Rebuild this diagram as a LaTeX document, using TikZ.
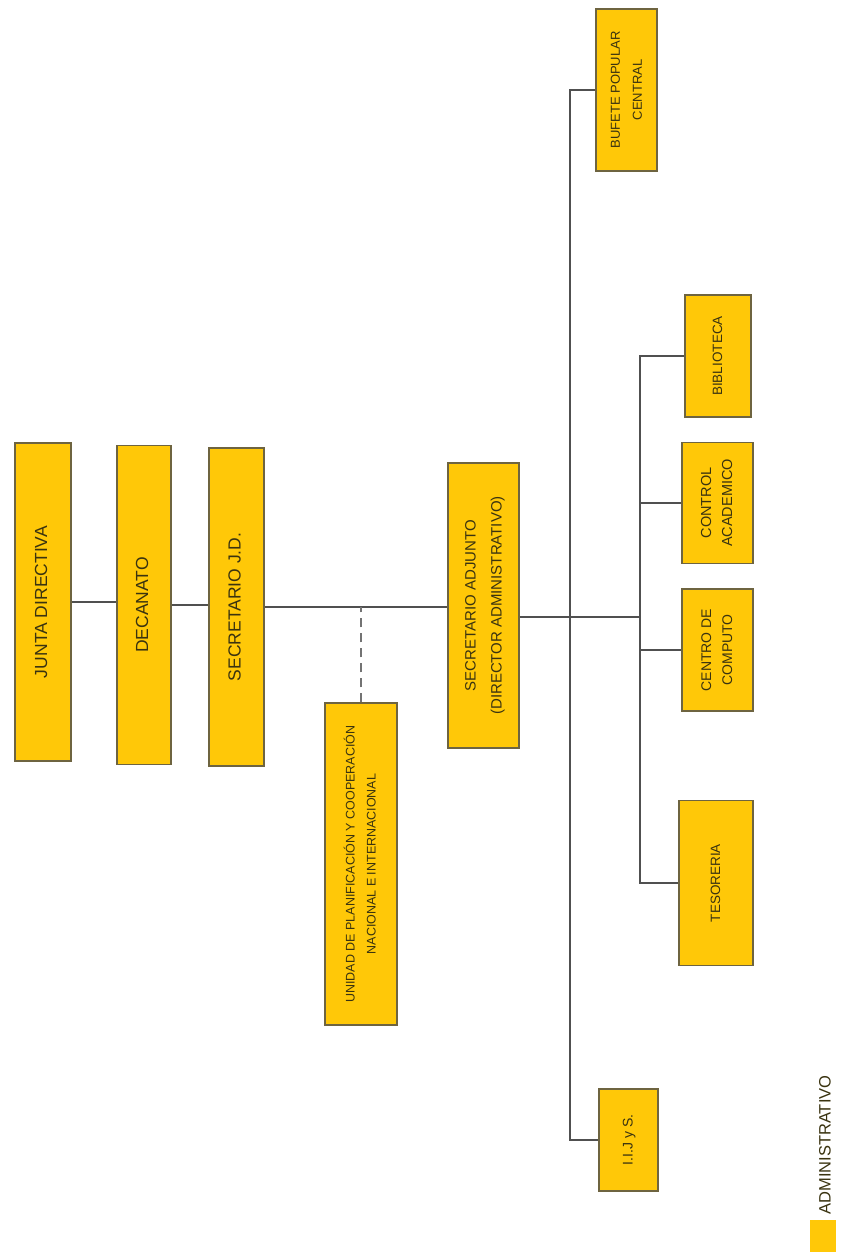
\documentclass[tikz,border=0pt]{standalone}
\usepackage{fontspec}
\setmainfont{Liberation Sans}
\usepackage{graphicx}
\usetikzlibrary{positioning,calc}

\definecolor{unitfill}{HTML}{FFC808}
\definecolor{unitedge}{HTML}{6E6440}
\definecolor{linkgray}{HTML}{505050}
\definecolor{labeltext}{HTML}{3A3310}
\newcommand{\vlabel}[1]{\rotatebox{90}{\begin{tabular}{@{}c@{}}#1\end{tabular}}}

\begin{document}
\begin{tikzpicture}[x=1pt,y=1pt,
  unit/.style={draw=unitedge,fill=unitfill,line width=1.3pt,inner sep=0pt,text=labeltext},
  bigtext/.style={font=\fontsize{17.5}{21}\selectfont},
  midtext/.style={font=\fontsize{15}{26}\selectfont},
  smalltext/.style={font=\fontsize{13.5}{21}\selectfont},
  link/.style={draw=linkgray,line width=1.5pt},
  dashlink/.style={draw=linkgray!80,line width=1.5pt,dash pattern=on 9pt off 6pt}]
  \useasboundingbox (0,0) rectangle (842,-1252);

  % top line of command
  \node[unit,bigtext,minimum width=56pt,minimum height=318pt] (junta) at (43,-602) {\vlabel{JUNTA DIRECTIVA}};
  \node[unit,bigtext,minimum width=54pt,minimum height=319pt] (decanato) at (144,-605) {\vlabel{DECANATO}};
  \node[unit,bigtext,minimum width=55pt,minimum height=318pt] (secjd) at (236.5,-607) {\vlabel{SECRETARIO J.D.}};
  \node[unit,font=\fontsize{12.5}{21}\selectfont,minimum width=72pt,minimum height=322pt] (unidad) at (361,-864)
    {\vlabel{UNIDAD DE PLANIFICACIÓN Y COOPERACIÓN\\NACIONAL E INTERNACIONAL}};
  \node[unit,midtext,minimum width=71pt,minimum height=285pt] (secadj) at (483.5,-605.5)
    {\vlabel{SECRETARIO ADJUNTO\\(DIRECTOR ADMINISTRATIVO)}};

  % dependencies
  \node[unit,font=\fontsize{13}{22}\selectfont,minimum width=61pt,minimum height=162pt] (bufete) at (626.5,-90) {\vlabel{BUFETE POPULAR\\CENTRAL}};
  \node[unit,smalltext,minimum width=66pt,minimum height=122pt] (biblio) at (718,-356) {\vlabel{BIBLIOTECA}};
  \node[unit,font=\fontsize{14.5}{21}\selectfont,minimum width=71pt,minimum height=121pt] (control) at (717.5,-503) {\vlabel{CONTROL\\ACADEMICO}};
  \node[unit,font=\fontsize{14}{21}\selectfont,minimum width=71pt,minimum height=122pt] (computo) at (717.5,-650) {\vlabel{CENTRO DE\\COMPUTO}};
  \node[unit,smalltext,minimum width=74pt,minimum height=165pt] (tesoreria) at (716,-883) {\vlabel{TESORERIA}};
  \node[unit,font=\fontsize{14}{20}\selectfont,minimum width=59pt,minimum height=102pt] (iijs) at (628.5,-1140) {\vlabel{I.I.J y S.}};

  % legend
  \node[fill=unitfill,minimum width=26pt,minimum height=32pt,inner sep=0pt] (legbox) at (823,-1236) {};
  \node[font=\fontsize{16.5}{20}\selectfont,text=labeltext,inner sep=0pt,above=5pt of legbox,xshift=2pt] (legtext) {\rotatebox{90}{ADMINISTRATIVO}};

  \coordinate (trunk) at (570,-617);
  \coordinate (branch) at (640,-617);

  \draw[link] (junta.east) -- (junta.east -| decanato.west);
  \draw[link] (decanato.east) -- (decanato.east -| secjd.west);
  \draw[link] (secjd.east) -- (secjd.east -| secadj.west);
  \draw[dashlink] (unidad.north) -- (unidad.north |- secjd.east);
  \draw[link] (secadj.east |- branch) -- (branch);
  \draw[link] (bufete.west) -| (trunk) |- (iijs.west);
  \draw[link] (biblio.west) -| (branch) |- (tesoreria.west);
  \foreach \n in {control,computo}{
    \draw[link] (\n.west) -- (\n.west -| branch);
  }
\end{tikzpicture}
\end{document}
